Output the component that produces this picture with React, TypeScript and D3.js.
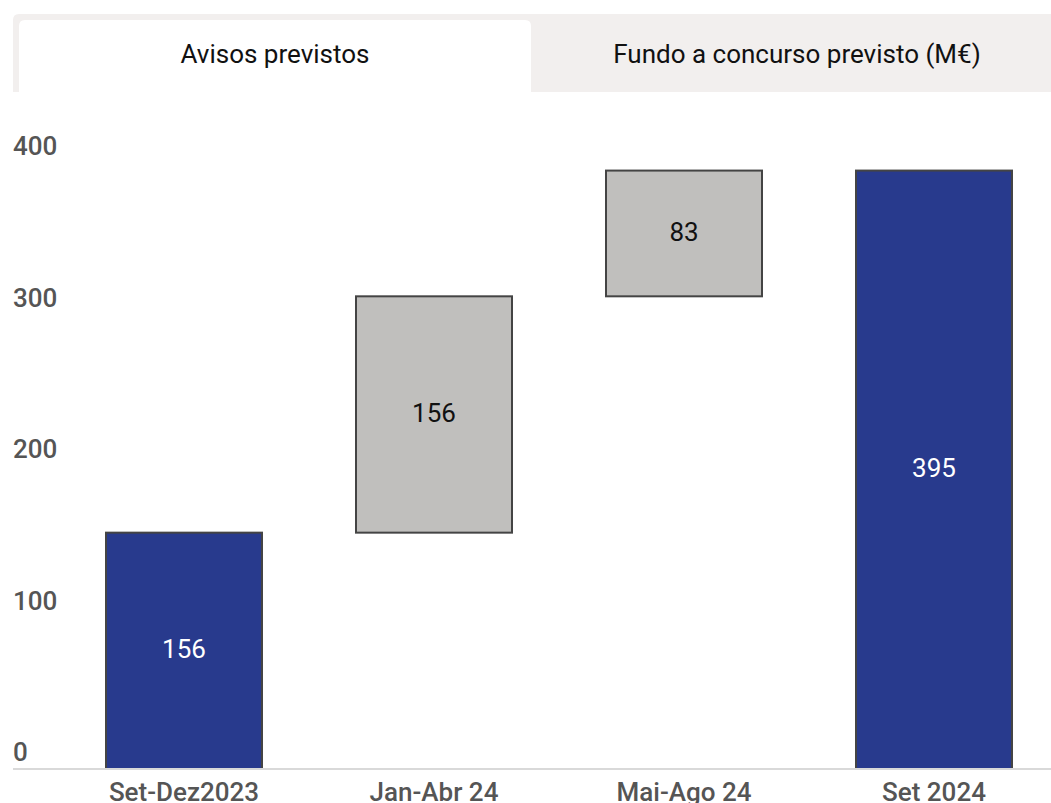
import React from "react";
import * as d3 from "d3";

const categories = ["Set-Dez2023", "Jan-Abr 24", "Mai-Ago 24", "Set 2024"];
const values = [156, 156, 83, 395];
const barKinds = ["total", "delta", "delta", "total"];
const yTicks = [0, 100, 200, 300, 400];
const tabLabels = ["Avisos previstos", "Fundo a concurso previsto (M€)"];

const W = 1051;
const H = 803;
const FONT = "Roboto, 'Noto Sans', sans-serif";

export default function App() {
  const x = d3
    .scaleBand<string>()
    .domain(categories)
    .range([59, 1059])
    .paddingInner(0.376)
    .paddingOuter(0.188);
  const y = d3.scaleLinear().domain([0, 400]).range([769, 163]);

  // waterfall: compute start / end of each bar
  let running = 0;
  const bars = categories.map((c, i) => {
    let y0: number, y1: number;
    if (barKinds[i] === "total") {
      y0 = 0;
      y1 = values[i];
      running = values[i];
    } else {
      y0 = running;
      y1 = running + values[i];
      running = y1;
    }
    return { c, v: values[i], y0, y1, kind: barKinds[i] };
  });

  const tabTop = 14;
  const tabBottom = 92;

  return (
    <svg
      width={W}
      height={H}
      style={{ position: "absolute", left: 0, top: 0, background: "#fff" }}
      fontFamily={FONT}
    >
      {/* tabs */}
      <path
        d={`M13,${tabBottom} V${tabTop + 6} Q13,${tabTop} 19,${tabTop} H${W + 10} V${tabBottom} Z`}
        fill="#f2efee"
      />
      <path
        d={`M19,${tabBottom} V26 Q19,20 25,20 H525 Q531,20 531,26 V${tabBottom} Z`}
        fill="#ffffff"
      />
      <text x={275} y={63} textAnchor="middle" fontSize={26} fill="#111">
        {tabLabels[0]}
      </text>
      <text x={797} y={63} textAnchor="middle" fontSize={26} fill="#111">
        {tabLabels[1]}
      </text>

      {/* y tick labels */}
      {yTicks.map((t) => (
        <text
          key={t}
          x={13}
          y={y(t) - 8}
          fontSize={26}
          fontWeight={500}
          fill="#555"
        >
          {t}
        </text>
      ))}

      {/* bars */}
      {bars.map((b) => {
        const top = y(b.y1);
        const bottom = y(b.y0);
        const isTotal = b.kind === "total";
        return (
          <g key={b.c}>
            <rect
              x={x(b.c)!}
              y={top}
              width={x.bandwidth()}
              height={bottom - top}
              fill={isTotal ? "#283a8d" : "#c0bfbd"}
              stroke="#444"
              strokeWidth={2}
            />
            <text
              x={x(b.c)! + x.bandwidth() / 2}
              y={(top + bottom) / 2 - 2}
              dy="0.35em"
              textAnchor="middle"
              fontSize={26}
              fill={isTotal ? "#ffffff" : "#111"}
            >
              {b.v}
            </text>
          </g>
        );
      })}

      {/* x axis line */}
      <line x1={13} x2={W} y1={y(0)} y2={y(0)} stroke="#d9d9d9" strokeWidth={2} />

      {/* x labels */}
      {categories.map((c) => (
        <text
          key={c}
          x={x(c)! + x.bandwidth() / 2}
          y={801}
          textAnchor="middle"
          fontSize={26}
          fontWeight={500}
          fill="#555"
        >
          {c}
        </text>
      ))}
    </svg>
  );
}
